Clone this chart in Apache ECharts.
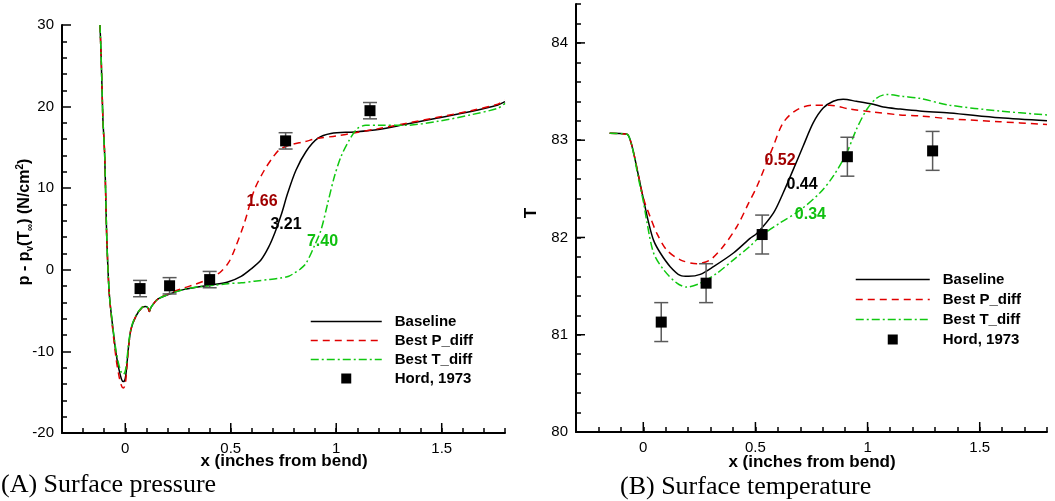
<!DOCTYPE html>
<html><head><meta charset="utf-8">
<script src="https://cdn.jsdelivr.net/npm/echarts@6/dist/echarts.min.js"></script>
<style>html,body{margin:0;padding:0;background:#fff}#c{width:1055px;height:501px}</style>
</head><body><div id="c"></div>
<script>
// ---------------- data ----------------
// (A) Surface pressure: p - pv(Tinf) vs x
const pBaseX = [-0.120,-0.115,-0.110,-0.106,-0.098,-0.092,-0.087,-0.076,-0.060,-0.044,-0.030,-0.018,-0.009,0.000,0.008,0.016,0.027,0.050,0.080,0.098,0.108,0.114,0.122,0.154,0.217,0.280,0.343,0.422,0.486,0.549,0.596,0.643,0.680,0.710,0.740,0.770,0.809,0.857,0.912,0.975,1.086,1.200,1.323,1.481,1.639,1.766,1.800];
const pBaseY = [30.0,26.6,22.0,18.4,14.3,8.2,3.3,-2.9,-6.9,-10.2,-12.2,-13.4,-13.7,-13.3,-11.5,-9.3,-7.3,-5.7,-4.6,-4.5,-4.7,-5.1,-4.6,-3.6,-2.9,-2.4,-2.1,-1.8,-1.5,-0.8,0.1,1.2,2.8,4.6,6.8,9.4,12.2,14.5,16.1,16.7,16.9,17.2,17.8,18.6,19.4,20.2,20.6];
const pPdiffX = [-0.120,-0.115,-0.110,-0.106,-0.098,-0.092,-0.087,-0.076,-0.060,-0.044,-0.030,-0.018,-0.009,0.000,0.008,0.016,0.027,0.050,0.080,0.098,0.108,0.114,0.122,0.154,0.217,0.280,0.330,0.370,0.420,0.454,0.490,0.517,0.564,0.612,0.659,0.700,0.730,0.780,0.850,0.910,1.000,1.090,1.200,1.323,1.481,1.639,1.766,1.800];
const pPdiffY = [30.0,26.6,22.0,18.4,14.3,8.2,3.3,-2.9,-7.2,-10.8,-13.0,-14.2,-14.5,-14.0,-11.8,-9.4,-7.3,-5.7,-4.6,-4.5,-4.7,-5.1,-4.6,-3.6,-2.8,-2.2,-1.8,-1.4,-0.8,-0.2,0.9,2.4,5.7,9.8,12.2,13.8,14.7,15.3,15.7,16.1,16.4,16.8,17.3,17.9,18.7,19.5,20.3,20.8];
const pTdiffX = [-0.120,-0.115,-0.110,-0.106,-0.098,-0.092,-0.087,-0.076,-0.060,-0.044,-0.030,-0.018,-0.009,0.000,0.008,0.016,0.027,0.050,0.080,0.098,0.108,0.114,0.122,0.154,0.217,0.280,0.343,0.422,0.486,0.550,0.612,0.680,0.738,0.775,0.801,0.830,0.857,0.896,0.928,0.960,0.991,1.023,1.062,1.100,1.140,1.200,1.323,1.481,1.639,1.766,1.800];
const pTdiffY = [30.0,26.6,22.0,18.4,14.3,8.2,3.3,-2.9,-6.8,-9.9,-11.7,-12.6,-12.8,-12.4,-10.9,-9.0,-7.2,-5.6,-4.6,-4.5,-4.7,-5.0,-4.6,-3.6,-2.9,-2.4,-2.1,-1.9,-1.7,-1.6,-1.4,-1.2,-1.0,-0.8,-0.4,0.1,0.8,2.9,4.9,8.2,11.4,13.9,15.9,17.3,17.7,17.7,17.7,18.2,19.0,19.8,20.4];
const pHordX = [0.07,0.21,0.40,0.76,1.16];
const pHordY = [-2.3,-1.96,-1.2,15.8,19.5];
const pHordErr = [1.0,1.0,1.0,1.0,1.0];
const pLabelText = ['1.66','3.21','7.40'];
const pLabelX = [0.648,0.762,0.935];
const pLabelY = [8.3,5.5,3.5];

// (B) Surface temperature: T vs x
const tBaseX = [-0.150,-0.073,-0.058,-0.043,-0.021,0.001,0.024,0.046,0.076,0.120,0.165,0.202,0.254,0.313,0.402,0.476,0.506,0.580,0.624,0.669,0.713,0.758,0.802,0.847,0.891,0.950,1.025,1.070,1.144,1.232,1.366,1.589,1.800];
const tBaseY = [83.07,83.06,83.00,82.87,82.63,82.39,82.15,81.97,81.84,81.70,81.61,81.60,81.62,81.70,81.84,81.99,82.04,82.25,82.46,82.70,82.94,83.18,83.33,83.40,83.42,83.40,83.37,83.34,83.32,83.30,83.28,83.23,83.20];
const tPdiffX = [-0.150,-0.073,-0.058,-0.043,-0.021,0.001,0.031,0.061,0.105,0.165,0.239,0.298,0.357,0.417,0.469,0.506,0.580,0.624,0.683,0.758,0.831,0.921,1.025,1.144,1.232,1.366,1.589,1.800];
const tPdiffY = [83.07,83.06,83.00,82.87,82.63,82.40,82.21,82.04,81.87,81.77,81.73,81.77,81.91,82.11,82.35,82.52,82.94,83.18,83.31,83.36,83.36,83.32,83.29,83.26,83.25,83.22,83.19,83.16];
const tTdiffX = [-0.150,-0.073,-0.058,-0.043,-0.021,0.001,0.016,0.046,0.090,0.150,0.194,0.254,0.327,0.402,0.476,0.521,0.610,0.699,0.788,0.847,0.907,0.950,0.995,1.039,1.085,1.158,1.232,1.366,1.589,1.800];
const tTdiffY = [83.07,83.06,83.00,82.86,82.60,82.36,82.16,81.84,81.67,81.53,81.49,81.53,81.63,81.77,81.91,82.01,82.15,82.28,82.46,82.63,82.87,83.11,83.31,83.43,83.47,83.45,83.43,83.36,83.30,83.26];
const tHordX = [0.08,0.28,0.53,0.91,1.29];
const tHordY = [81.13,81.53,82.03,82.83,82.89];
const tHordErr = [0.2,0.2,0.2,0.2,0.2];
const tLabelText = ['0.52','0.44','0.34'];
const tLabelX = [0.610,0.708,0.745];
const tLabelY = [82.79,82.54,82.23];

// axis tick labels / major tick values
const xTicksMajor = [0,0.5,1,1.5];
const tTicksMajor = [80,81,82,83,84];
const seriesNames = ['Baseline','Best P_diff','Best T_diff','Hord, 1973'];

// ---------------- chart ----------------
const FONT = "'Liberation Sans', Arial, Helvetica, sans-serif";
const SERIF = "'Liberation Serif', 'Times New Roman', serif";
const zip = (xs, ys) => xs.map((x, i) => [x, ys[i]]);
const lineStyles = [
  {color:'#000000', width:1.5, type:'solid'},
  {color:'#e00000', width:1.5, type:[7,5]},
  {color:'#10c810', width:1.5, type:[8,3,2,3]}
];
const labelColors = ['#a00000','#000000','#10c010'];
const TICKC = '#000000';
const labelStyle = () => ({color:'#000', fontSize:15, fontFamily:FONT});

function errRender(params, api) {
  const x = api.value(0), y = api.value(1), e = api.value(2);
  const top = api.coord([x, y + e]), bot = api.coord([x, y - e]);
  const hw = 7;
  const st = {stroke:'#5a5a5a', lineWidth:1.5, fill:null};
  return {type:'group', children:[
    {type:'line', shape:{x1:top[0], y1:top[1], x2:bot[0], y2:bot[1]}, style:st},
    {type:'line', shape:{x1:top[0]-hw, y1:top[1], x2:top[0]+hw, y2:top[1]}, style:st},
    {type:'line', shape:{x1:bot[0]-hw, y1:bot[1], x2:bot[0]+hw, y2:bot[1]}, style:st}
  ]};
}
// long (major) ticks drawn through the axis scales
function majorTickRender(dir, len) {
  return function (params, api) {
    const p = api.coord([api.value(0), api.value(1)]);
    const shape = dir === 'x' ? {x1:p[0], y1:p[1], x2:p[0], y2:p[1] - len}
                              : {x1:p[0], y1:p[1], x2:p[0] + len, y2:p[1]};
    return {type:'line', shape:shape, style:{stroke:TICKC, lineWidth:1.5}};
  };
}

function xAxisDef(grid) {
  return {type:'value', gridIndex:grid, min:-0.3, max:1.8, interval:0.1,
    axisLine:{show:true, onZero:false, lineStyle:{color:'#000', width:2}},
    axisTick:{show:true, inside:true, length:5, lineStyle:{color:TICKC, width:1.5}},
    axisLabel:Object.assign({show:true, customValues:xTicksMajor, margin:8}, labelStyle()),
    splitLine:{show:false}};
}

function buildSeries(grid, xs, ys, hx, hy, he, lt, lx, ly, yMin, yMajor) {
  const xi = grid, yi = grid;
  const out = [];
  for (let k = 0; k < 3; k++) {
    out.push({type:'line', name:seriesNames[k], xAxisIndex:xi, yAxisIndex:yi,
      data:zip(xs[k], ys[k]), symbol:'none', smooth:0.3, lineStyle:Object.assign({opacity:1}, lineStyles[k]),
      itemStyle:{color:lineStyles[k].color}, z:3 + k, silent:true});
  }
  out.push({type:'custom', name:'err' + grid, xAxisIndex:xi, yAxisIndex:yi,
    data:hx.map((x, i) => [x, hy[i], he[i]]), renderItem:errRender,
    encode:{x:0, y:1}, z:7, silent:true});
  out.push({type:'scatter', name:seriesNames[3], xAxisIndex:xi, yAxisIndex:yi,
    data:zip(hx, hy), symbol:'rect', symbolSize:11, itemStyle:{color:'#000', opacity:1}, z:8, silent:true});
  out.push({type:'scatter', name:'lab' + grid, xAxisIndex:xi, yAxisIndex:yi,
    symbolSize:1, itemStyle:{color:'rgba(0,0,0,0)', opacity:1}, z:9, silent:true,
    data:lx.map((x, i) => ({value:[x, ly[i]], name:lt[i], label:{color:labelColors[i]}})),
    label:{show:true, position:'inside', formatter:'{b}', fontSize:16, fontWeight:'bold', fontFamily:FONT, opacity:1}});
  out.push({type:'custom', name:'xmaj' + grid, xAxisIndex:xi, yAxisIndex:yi, clip:false,
    data:xTicksMajor.map(v => [v, yMin]), renderItem:majorTickRender('x', 10),
    encode:{x:0, y:1}, z:10, silent:true});
  if (yMajor) {
    out.push({type:'custom', name:'ymaj' + grid, xAxisIndex:xi, yAxisIndex:yi, clip:false,
      data:yMajor.map(v => [-0.3, v]), renderItem:majorTickRender('y', 9),
      encode:{x:0, y:1}, z:10, silent:true});
  }
  return out;
}

function legend(left, top, w, gap) {
  return {
    orient:'vertical', left:left, top:top, padding:0, itemWidth:w, itemHeight:10, itemGap:gap,
    selectedMode:false,
    lineStyle:{width:'inherit'},
    data:[
      {name:seriesNames[0], itemStyle:{opacity:0}},
      {name:seriesNames[1], itemStyle:{opacity:0}},
      {name:seriesNames[2], itemStyle:{opacity:0}},
      {name:seriesNames[3], icon:'path://M0,0L10,0L10,10L0,10Z', itemStyle:{opacity:1, color:'#000'}}
    ],
    textStyle:{color:'#000', fontSize:15, fontWeight:'bold', fontFamily:FONT, lineHeight:15, padding:[0,0,0,8]}
  };
}

const chart = echarts.init(document.getElementById('c'));
chart.setOption({
  animation:false,
  grid:[
    {left:62, top:25, width:443, height:408},
    {left:576, top:4, width:471, height:428}
  ],
  xAxis:[xAxisDef(0), xAxisDef(1)],
  yAxis:[
    {type:'value', gridIndex:0, min:-20, max:30, interval:10,
     axisLine:{show:true, onZero:false, lineStyle:{color:'#000', width:2}},
     axisTick:{show:true, inside:true, length:9, lineStyle:{color:TICKC, width:1.5}},
     minorTick:{show:true, splitNumber:5, length:5, lineStyle:{color:TICKC, width:1.5}},
     axisLabel:Object.assign({show:true, margin:8}, labelStyle()),
     splitLine:{show:false}},
    {type:'value', gridIndex:1, min:80, max:84.4, interval:0.2,
     axisLine:{show:true, onZero:false, lineStyle:{color:'#000', width:2}},
     axisTick:{show:true, inside:true, length:5, lineStyle:{color:TICKC, width:1.5}},
     axisLabel:Object.assign({show:true, customValues:tTicksMajor, margin:8}, labelStyle()),
     splitLine:{show:false}}
  ],
  legend:[legend(310, 314, 71, 4), legend(855, 272, 74, 5)],
  series: buildSeries(0, [pBaseX,pPdiffX,pTdiffX], [pBaseY,pPdiffY,pTdiffY], pHordX, pHordY, pHordErr, pLabelText, pLabelX, pLabelY, -20, null)
    .concat(buildSeries(1, [tBaseX,tPdiffX,tTdiffX], [tBaseY,tPdiffY,tTdiffY], tHordX, tHordY, tHordErr, tLabelText, tLabelX, tLabelY, 80, tTicksMajor)),
  graphic:[
    {type:'text', x:284, y:461, style:{text:'x (inches from bend)', font:"bold 17px " + FONT, fill:'#000', align:'center', verticalAlign:'middle'}},
    {type:'text', x:812, y:462, style:{text:'x (inches from bend)', font:"bold 17px " + FONT, fill:'#000', align:'center', verticalAlign:'middle'}},
    {type:'text', x:25, y:222, rotation:Math.PI/2, style:{
      text:'{a|p - p}{s|v}{a|(T}{s|\u221e}{a|) (N/cm}{u|2}{a|)}',
      align:'center', verticalAlign:'middle', fill:'#000',
      rich:{
        a:{fontSize:16, fontWeight:'bold', fontFamily:FONT, lineHeight:20, verticalAlign:'middle', fill:'#000'},
        s:{fontSize:10, fontWeight:'bold', fontFamily:FONT, lineHeight:10, verticalAlign:'bottom', fill:'#000'},
        u:{fontSize:10, fontWeight:'bold', fontFamily:FONT, lineHeight:10, verticalAlign:'top', fill:'#000'}
      }}},
    {type:'text', x:531, y:213, rotation:Math.PI/2, style:{text:'T', font:"bold 17px " + FONT, fill:'#000', align:'center', verticalAlign:'middle'}},
    {type:'text', x:1, y:485, style:{text:'(A) Surface pressure', font:"26px " + SERIF, fill:'#000', align:'left', verticalAlign:'middle'}},
    {type:'text', x:620, y:487, style:{text:'(B) Surface temperature', font:"26px " + SERIF, fill:'#000', align:'left', verticalAlign:'middle'}}
  ]
});
</script>
</body></html>
